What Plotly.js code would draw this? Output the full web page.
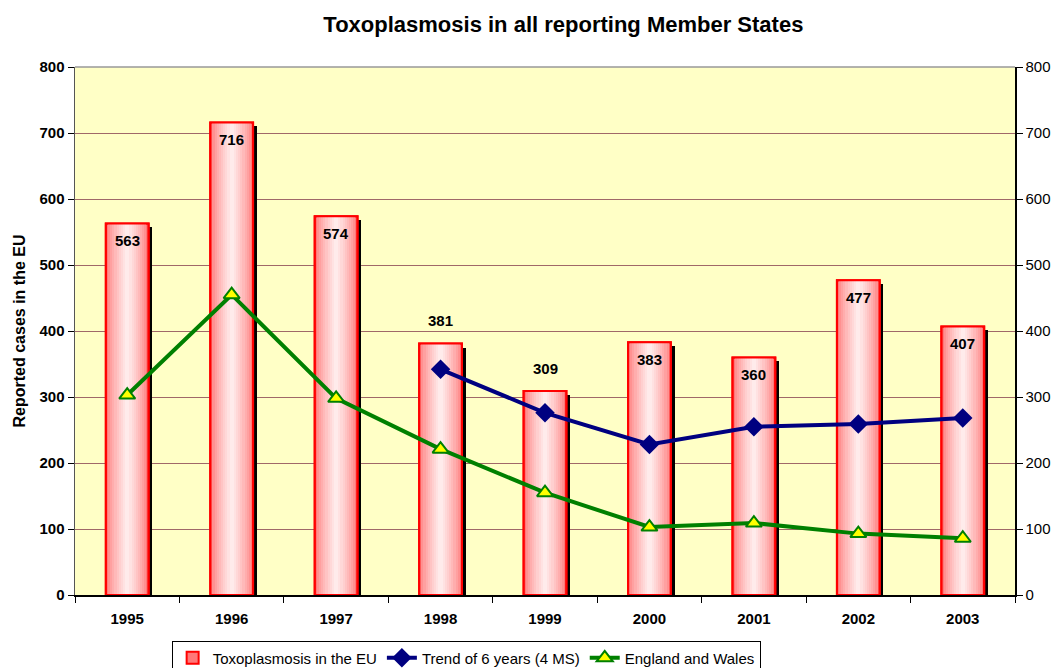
<!DOCTYPE html>
<html>
<head>
<meta charset="utf-8">
<script src="https://cdn.plot.ly/plotly-3.0.1.min.js"></script>
<style>html,body{margin:0;padding:0;background:#fff;}#chart{width:1057px;height:668px;}</style>
</head>
<body>
<div id="chart"></div>
<script>
// ---- data ----
const years = ['1995','1996','1997','1998','1999','2000','2001','2002','2003'];
const euCases = [563, 716, 574, 381, 309, 383, 360, 477, 407];
const trend4MS = [null, null, null, 342, 276, 228, 255, 259, 268];
const englandWales = [303, 455, 298, 221, 155, 103, 109, 93, 86];
const euLabelSide = ['inside','inside','inside','outside','outside','inside','inside','inside','inside'];

const FONT = 'Arial, "Liberation Sans", sans-serif';
const BAR_W = 0.41;
const traces = [];

// shadow bars
traces.push({
  type: 'bar', x: years, y: euCases, base: -6, width: BAR_W, offset: -BAR_W/2 + 0.035,
  marker: {color: '#000000', line: {width: 0}}, showlegend: false, hoverinfo: 'skip'
});

// gradient layers
const nLayers = 10;
for (let i = 0; i < nLayers; i++) {
  const t = i / (nLayers - 1);
  const w = BAR_W * (1 - 0.9 * t);
  const g = Math.round(120 + (235 - 120) * Math.pow(t, 0.7));
  const col = 'rgb(255,' + g + ',' + g + ')';
  traces.push({
    type: 'bar', x: years, y: euCases, width: w,
    name: 'Toxoplasmosis in the EU',
    marker: {color: col, line: i === 0 ? {color: '#FF0000', width: 2} : {width: 0}},
    showlegend: i === 0, hoverinfo: i === 0 ? 'x+y' : 'skip'
  });
}
// outline on top
traces.push({
  type: 'bar', x: years, y: euCases, width: BAR_W,
  marker: {color: 'rgba(0,0,0,0)', line: {color: '#FF0000', width: 2}},
  showlegend: false, hoverinfo: 'skip'
});

traces.push({
  type: 'scatter', mode: 'lines+markers', x: years, y: trend4MS,
  name: 'Trend of 6 years (4 MS)',
  line: {color: '#000080', width: 4},
  marker: {symbol: 'diamond', size: 15, color: '#000080'}
});
traces.push({
  type: 'scatter', mode: 'lines+markers', x: years, y: englandWales,
  name: 'England and Wales',
  line: {color: '#008000', width: 4},
  marker: {symbol: 'triangle-up', size: 14, color: '#FFFF00', line: {color: '#008000', width: 2}}
});
// carrier for right axis
traces.push({
  type: 'scatter', mode: 'markers', x: years, y: englandWales, yaxis: 'y2',
  marker: {opacity: 0}, showlegend: false, hoverinfo: 'skip'
});

const annotations = euCases.map((v, i) => ({
  x: i, y: v, xref: 'x', yref: 'y',
  text: '<b>' + v + '</b>', showarrow: false,
  yanchor: 'middle', yshift: euLabelSide[i] === 'inside' ? -17 : 23,
  font: {family: FONT, size: 15, color: '#000000'}
}));

const layout = {
  width: 1057, height: 668,
  margin: {l: 75, r: 42, t: 67, b: 73},
  paper_bgcolor: '#FFFFFF',
  plot_bgcolor: '#FFFFC6',
  barmode: 'overlay',
  bargap: 0,
  title: {text: '<b>Toxoplasmosis in all reporting Member States</b>',
          font: {family: FONT, size: 22, color: '#000'},
          x: 0.533, xanchor: 'center', y: 0.964, yanchor: 'middle'},
  xaxis: {
    type: 'category', tickson: 'boundaries', ticks: 'outside', ticklen: 6, tickcolor: '#000',
    showline: true, linecolor: '#000', linewidth: 1.5, showgrid: false,
    tickfont: {family: FONT, size: 15, color: '#000', weight: 'bold'},
    ticklabelstandoff: 9,
    range: [-0.5, 8.5]
  },
  yaxis: {
    range: [0, 800], dtick: 100, ticks: 'outside', ticklen: 6, tickcolor: '#000',
    showline: true, linecolor: '#555', linewidth: 1.5,
    showgrid: true, gridcolor: '#A06868', gridwidth: 1, zeroline: false,
    tickfont: {family: FONT, size: 15, color: '#000', weight: 'bold'},
    title: {text: '<b>Reported cases in the EU</b>', font: {family: FONT, size: 16, color: '#000'}, standoff: 10}
  },
  yaxis2: {
    overlaying: 'y', side: 'right', range: [0, 800], dtick: 100,
    ticks: 'outside', ticklen: 6, tickcolor: '#000',
    showline: true, linecolor: '#000', linewidth: 1.5, showgrid: false, zeroline: false,
    tickfont: {family: FONT, size: 15, color: '#000'}
  },
  shapes: [{type: 'line', xref: 'paper', yref: 'paper', x0: 0, x1: 1, y0: 1, y1: 1,
            line: {color: '#999', width: 1.5}}],
  legend: {
    orientation: 'h', x: 0.441, xanchor: 'center', xref: 'container',
    y: 0.041, yanchor: 'top', yref: 'container',
    bgcolor: '#FFFFFF', bordercolor: '#000', borderwidth: 1,
    font: {family: FONT, size: 15, color: '#000'},
    itemwidth: 30, tracegroupgap: 0
  },
  annotations: annotations,
  showlegend: true
};

Plotly.newPlot('chart', traces, layout, {displayModeBar: false, staticPlot: true});
</script>
</body>
</html>
